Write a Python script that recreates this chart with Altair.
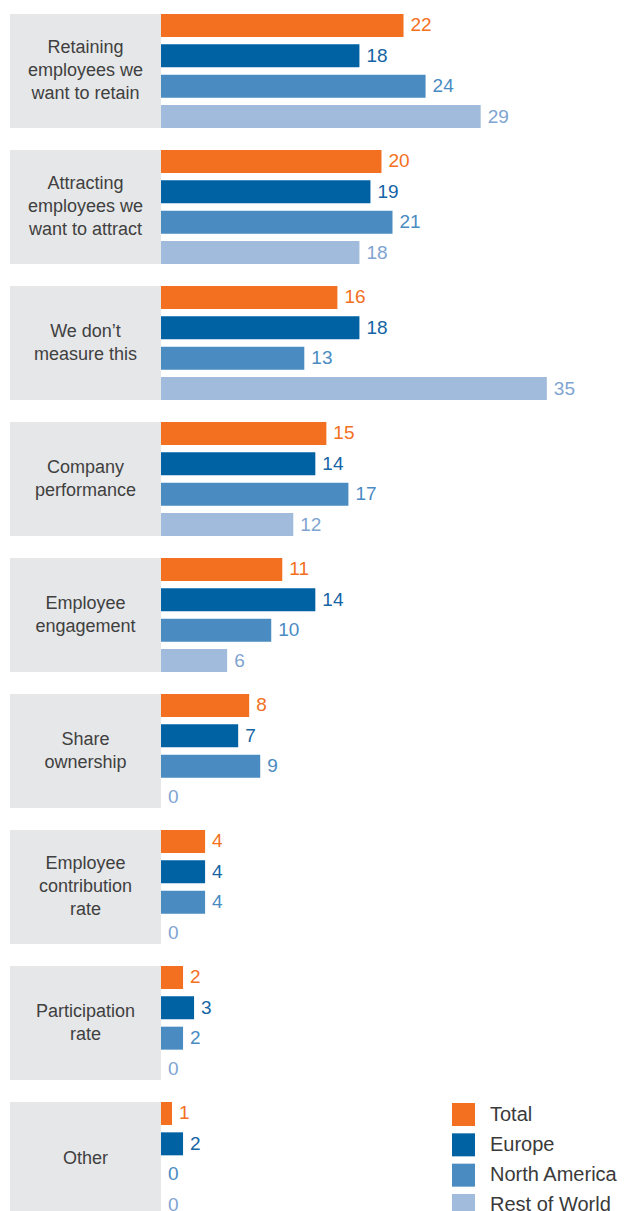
import altair as alt
import pandas as pd

categories = [
    "Retaining\nemployees we\nwant to retain",
    "Attracting\nemployees we\nwant to attract",
    "We don\u2019t\nmeasure this",
    "Company\nperformance",
    "Employee\nengagement",
    "Share\nownership",
    "Employee\ncontribution\nrate",
    "Participation\nrate",
    "Other",
]
series = ["Total", "Europe", "North America", "Rest of World"]
total = [22, 20, 16, 15, 11, 8, 4, 2, 1]
europe = [18, 19, 18, 14, 14, 7, 4, 3, 2]
north_america = [24, 21, 13, 17, 10, 9, 4, 2, 0]
rest_of_world = [29, 18, 35, 12, 6, 0, 0, 0, 0]

bar_colors = ["#F37021", "#0062A3", "#4A8BC2", "#A0BBDB"]
label_colors = ["#F37021", "#1565A5", "#4A8BC2", "#7FA4D1"]

rows = []
for s, vals in zip(series, [total, europe, north_america, rest_of_world]):
    for c, v in zip(categories, vals):
        rows.append({"category": c, "series": s, "value": v})
df = pd.DataFrame(rows)
cat_df = pd.DataFrame({"category": categories,
                       "nlines": [c.count("\n") + 1 for c in categories]})

FONT = "Liberation Sans"
H = 1202
LH = 23
yscale = alt.Scale(domain=categories, paddingInner=22 / 136, paddingOuter=0)
ycat = alt.Y("category:N", scale=yscale, axis=None, sort=categories)

left_box = alt.Chart(cat_df).mark_rect(color="#E6E7E9").encode(y=ycat)
text_layers = []
for n in (1, 2, 3):
    text_layers.append(
        alt.Chart(cat_df).transform_filter(f"datum.nlines == {n}").mark_text(
            font=FONT, fontSize=18, color="#404040", align="center",
            baseline="middle", lineBreak="\n", lineHeight=LH,
            dy=-(n - 1) * LH / 2,
        ).encode(y=ycat, x=alt.value(75.5), text="category:N")
    )
left = alt.layer(left_box, *text_layers).properties(width=151, height=H)

xscale = alt.Scale(domain=[0, 42], nice=False, zero=True)
yoff = alt.YOffset("series:N", sort=series,
                   scale=alt.Scale(domain=series, paddingInner=0.242, paddingOuter=0))

bars = alt.Chart(df).mark_bar().encode(
    y=ycat,
    yOffset=yoff,
    x=alt.X("value:Q", scale=xscale, axis=None),
    color=alt.Color("series:N", sort=series,
                    scale=alt.Scale(domain=series, range=bar_colors),
                    legend=alt.Legend(
                        title=None, orient="none", legendX=442, legendY=1089,
                        symbolType="square", symbolSize=529, symbolStrokeWidth=0,
                        symbolOpacity=1,
                        labelFontSize=20, labelFont=FONT, labelColor="#3A3A3A",
                        labelOffset=15, rowPadding=7.33, padding=0,
                    )),
)
labels = alt.Chart(df).mark_text(
    font=FONT, fontSize=19, align="left", baseline="middle", dx=7,
).encode(
    y=ycat,
    yOffset=yoff,
    x=alt.X("value:Q", scale=xscale, axis=None),
    text="value:Q",
    fill=alt.Fill("series:N", sort=series,
                  scale=alt.Scale(domain=series, range=label_colors), legend=None),
)
right = alt.layer(bars, labels).properties(width=463, height=H)

chart = alt.hconcat(left, right, spacing=0).properties(
    padding={"left": 10, "top": 14, "right": 0, "bottom": 0},
).configure_view(stroke=None)

chart.save("out.html", embed_options={"renderer": "svg", "actions": False})
